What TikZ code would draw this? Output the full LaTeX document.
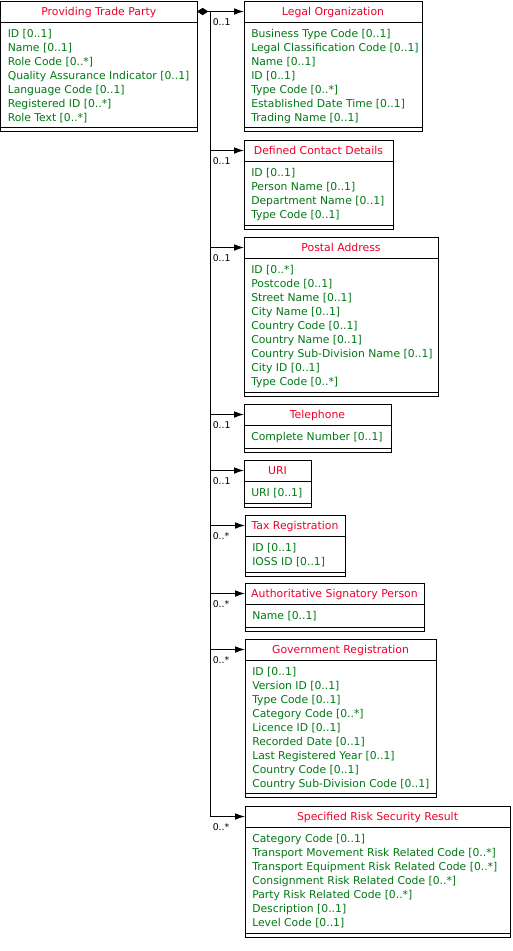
\documentclass[tikz,border=0pt]{standalone}
\usepackage{fontspec}
\setmainfont{DejaVu Sans}
\usetikzlibrary{arrows.meta,fit}
\definecolor{titlered}{RGB}{235,0,40}
\definecolor{itemgreen}{RGB}{0,120,20}
\tikzset{
  thinline/.style={line width=0.75pt, draw=black},
  classbox/.style={draw=black, line width=0.75pt, inner sep=0pt, outer sep=0pt},
  hdr/.style={inner sep=0pt, outer sep=0pt},
  hdrtext/.style={inner sep=0pt, anchor=center, text=titlered, font=\fontsize{8.15pt}{10pt}\selectfont, text height=6pt, text depth=1.5pt},
  items/.style={anchor=north west, align=left, inner sep=0pt, text=itemgreen, font=\fontsize{8.1pt}{10.5pt}\selectfont},
  assoc/.style={thinline, -{Latex[length=7.5pt,width=5pt]}},
  agg/.style={thinline, {Diamond[length=8.5pt,width=5.5pt]}-{Latex[length=7.5pt,width=5pt]}},
  mult/.style={anchor=west, inner sep=0pt, font=\fontsize{7pt}{8pt}\selectfont, text=black}
}
\newcommand{\umlclass}[7]{%
  \node[classbox, fit={(#2,#3) (#4,#5)}] (#1) {};
  \node[hdr, fit={(#2,#3) (#4,#3+21)}] (#1T) {};
  \node[hdrtext] (#1L) at ({(#2+#4)/2},#3+11.3) {#6};
  \draw[thinline] (#1T.south west) -- (#1T.south east);
  \draw[thinline] ([yshift=3pt]#1.south west) -- ([yshift=3pt]#1.south east);
  \node[items] (#1I) at (#2+7,#3+27.8) {#7};
}
\begin{document}
\begin{tikzpicture}[x=0.75pt, y=-0.75pt]
\useasboundingbox (0,0) rectangle (512,951);

\umlclass{ptp}{0.5}{1}{197}{131}{Providing Trade Party}{ID [0..1]\\Name [0..1]\\Role Code [0..*]\\Quality Assurance Indicator [0..1]\\Language Code [0..1]\\Registered ID [0..*]\\Role Text [0..*]}
\umlclass{lo}{244}{1}{422}{131}{Legal Organization}{Business Type Code [0..1]\\Legal Classification Code [0..1]\\Name [0..1]\\ID [0..1]\\Type Code [0..*]\\Established Date Time [0..1]\\Trading Name [0..1]}
\umlclass{dc}{244}{140}{393}{229}{Defined Contact Details}{ID [0..1]\\Person Name [0..1]\\Department Name [0..1]\\Type Code [0..1]}
\umlclass{pa}{244}{237}{438}{396}{Postal Address}{ID [0..*]\\Postcode [0..1]\\Street Name [0..1]\\City Name [0..1]\\Country Code [0..1]\\Country Name [0..1]\\Country Sub-Division Name [0..1]\\City ID [0..1]\\Type Code [0..*]}
\umlclass{tel}{244}{404}{391}{452}{Telephone}{Complete Number [0..1]}
\umlclass{uri}{244}{460}{311}{507}{URI}{URI [0..1]}
\umlclass{tax}{245}{515}{345}{576}{Tax Registration}{ID [0..1]\\IOSS ID [0..1]}
\umlclass{asp}{245}{583}{424}{631}{Authoritative Signatory Person}{Name [0..1]}
\umlclass{gr}{245}{639}{436}{797}{Government Registration}{ID [0..1]\\Version ID [0..1]\\Type Code [0..1]\\Category Code [0..*]\\Licence ID [0..1]\\Recorded Date [0..1]\\Last Registered Year [0..1]\\Country Code [0..1]\\Country Sub-Division Code [0..1]}
\umlclass{srs}{245}{806}{510}{937}{Specified Risk Security Result}{Category Code [0..1]\\Transport Movement Risk Related Code [0..*]\\Transport Equipment Risk Related Code [0..*]\\Consignment Risk Related Code [0..*]\\Party Risk Related Code [0..*]\\Description [0..1]\\Level Code [0..1]}

\coordinate (trunk) at (210,11.5);
\coordinate (trunkend) at (trunk |- srsT.west);
\draw[thinline] (trunk) -- (trunkend);
\draw[agg] (ptpT.east) -- (loT.west);
\node[mult] (mlo) at ([shift={(2.5,11)}]trunk) {0..1};

\foreach \n/\m in {dc/0..1, pa/0..1, tel/0..1, uri/0..1, tax/0..*, asp/0..*, gr/0..*, srs/0..*}{
  \coordinate (b\n) at (trunk |- \n T.west);
  \draw[assoc] (b\n) -- (\n T.west);
  \node[mult] (m\n) at ([shift={(2.5,11)}]b\n) {\m};
}
\end{tikzpicture}
\end{document}
